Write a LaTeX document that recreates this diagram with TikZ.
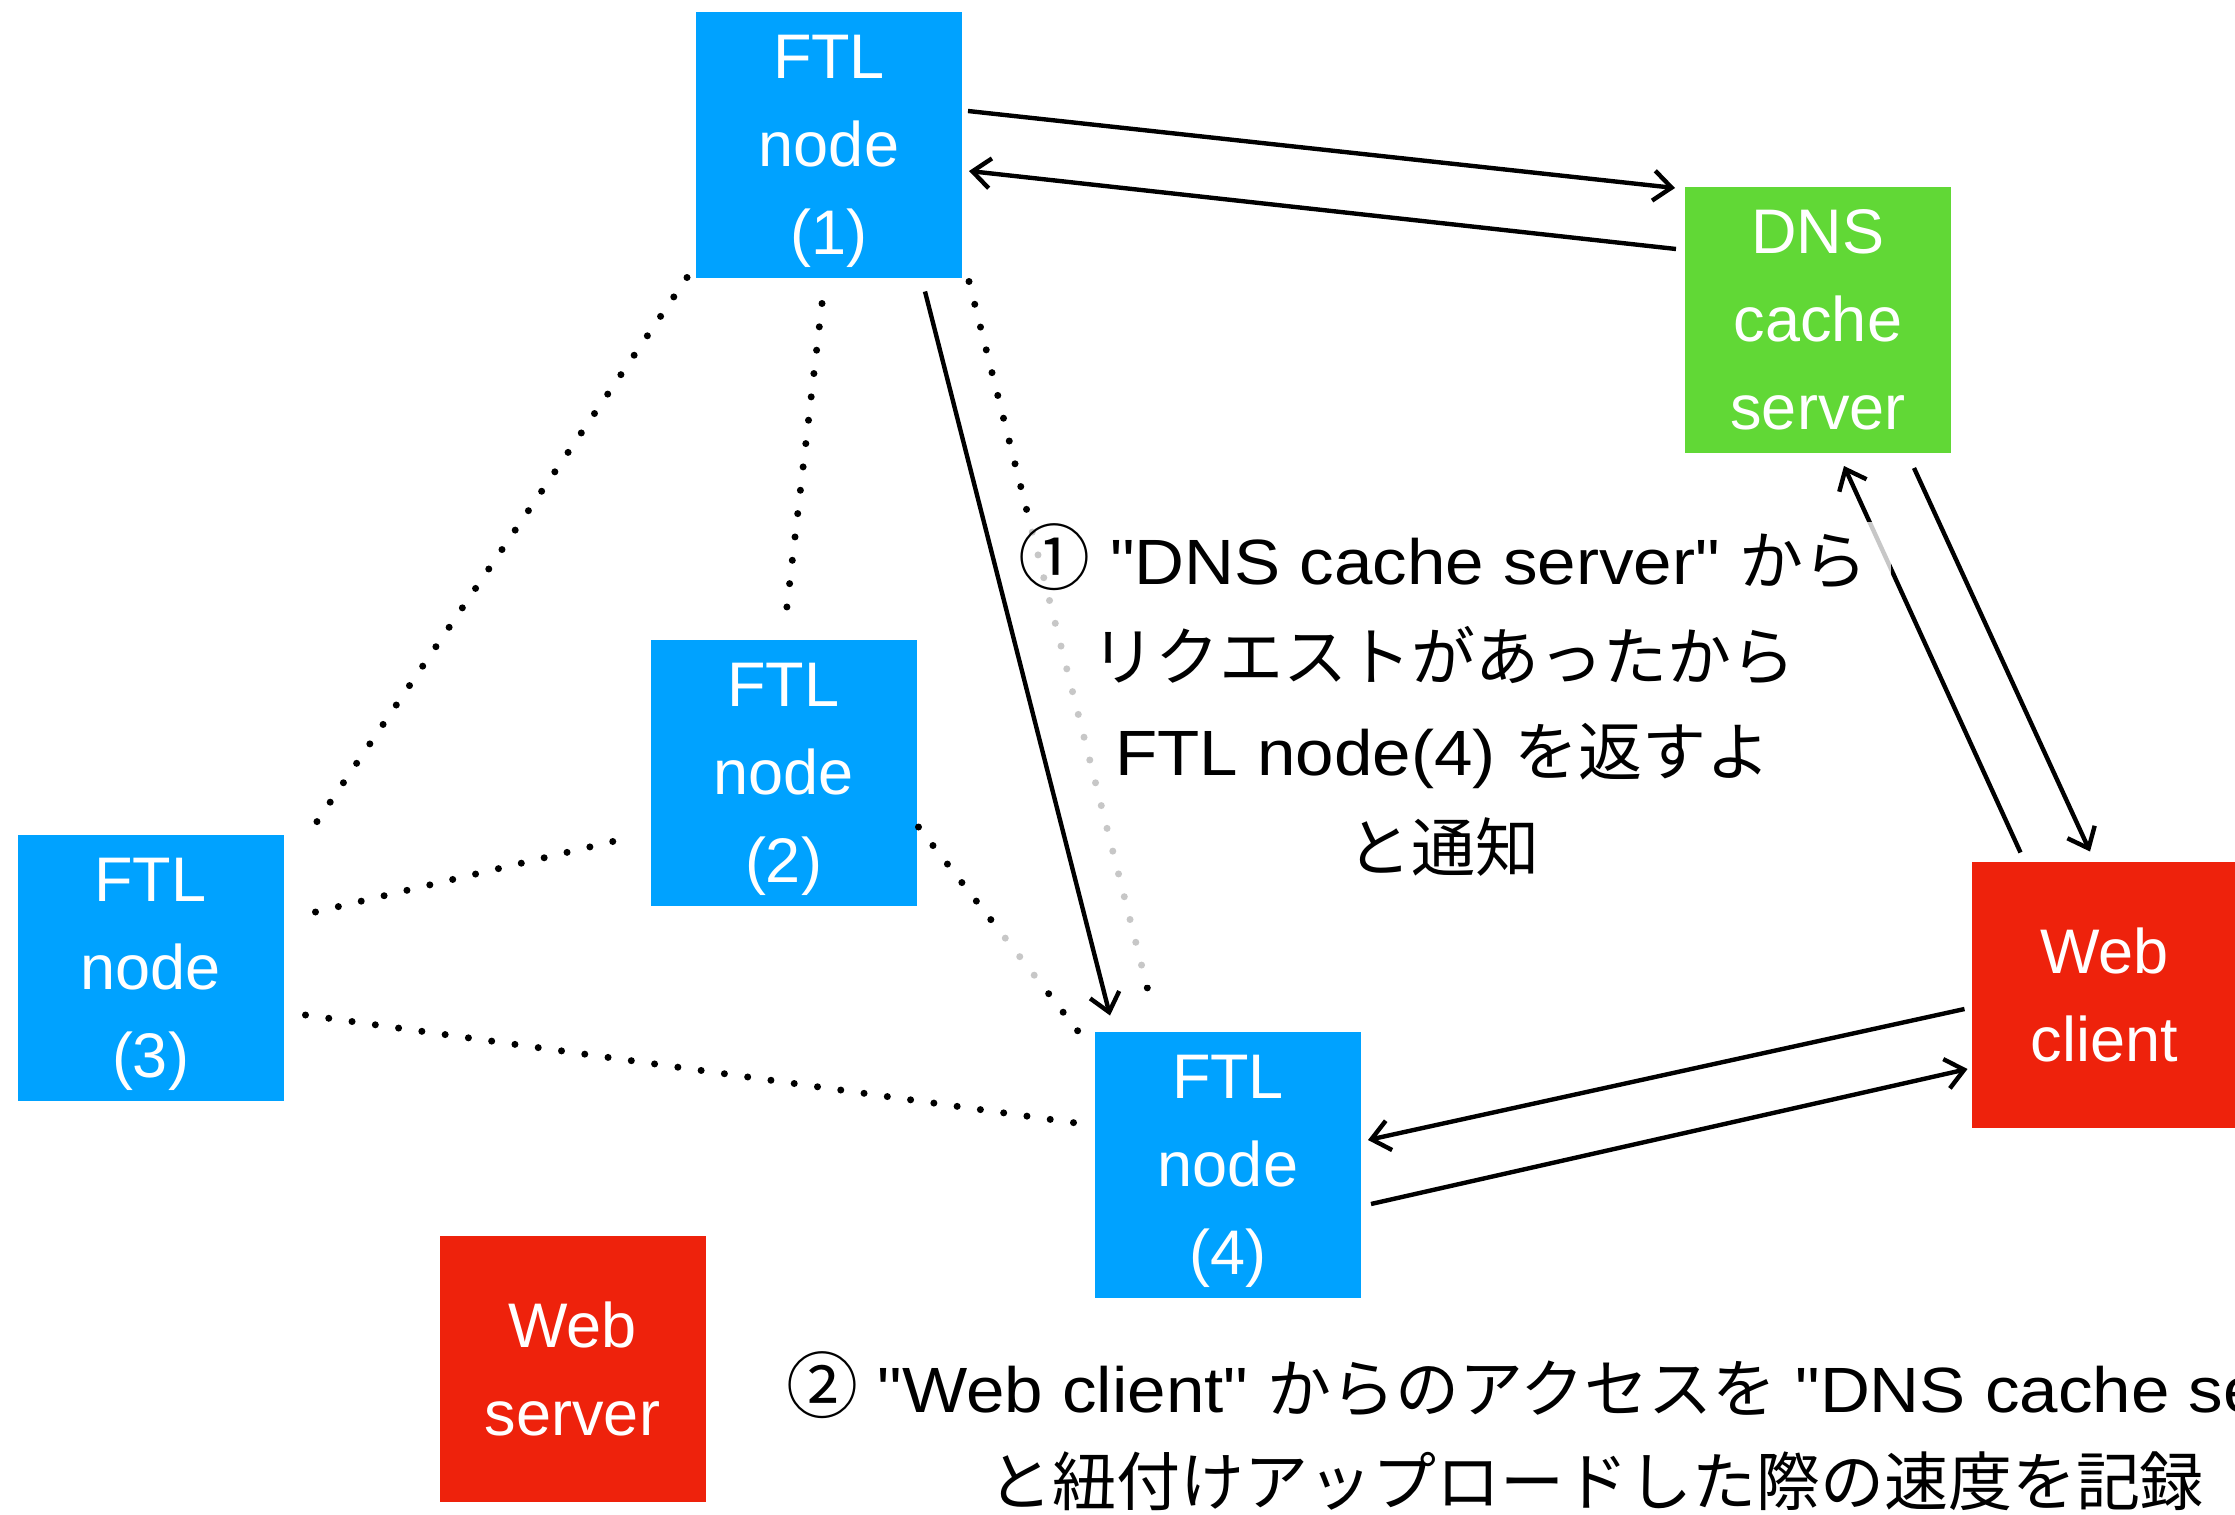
\documentclass[tikz,border=0pt]{standalone}
\usepackage{fontspec}
\setmainfont{Liberation Sans}
\newfontfamily\lsans{Liberation Sans}[FakeStretch=1.08]
\newfontfamily\jpfont{Noto Sans CJK JP}
\newcommand\circnum[1]{\smash{\jpfont\fontsize{36}{36}\selectfont #1}}
\usetikzlibrary{arrows.meta,calc}
\definecolor{ftlblue}{HTML}{00A2FF}
\definecolor{dnsgreen}{HTML}{61D836}
\definecolor{webred}{HTML}{EE220C}
\begin{document}
\begin{tikzpicture}[x=0.5pt,y=-0.5pt,
  basebox/.style={minimum size=133pt, inner sep=0pt, outer sep=0pt, text=white, align=center, font=\fontsize{31.5}{44}\selectfont},
  ftlbox/.style={basebox, fill=ftlblue},
  dnsbox/.style={basebox, fill=dnsgreen},
  webbox/.style={basebox, fill=webred},
  arr/.style={line width=2.2pt, -{Straight Barb[length=9pt,width=15pt]}},
  dotline/.style={line width=3.5pt, line cap=round, dash pattern=on 0pt off 11.75pt},
  lbla/.style={align=center, font=\lsans\fontsize{32}{47.75}\selectfont},
  lblb/.style={align=center, font=\lsans\fontsize{32}{46.3}\selectfont}
]
\useasboundingbox (0,0) rectangle (2235,1515);
\fill[white] (0,0) rectangle (2235,1515);
\clip (0,0) rectangle (2235,1515);

% boxes
\node[ftlbox] (ftl1) at (829,144.5) {FTL\\node\\\smash{(1)}};
\node[dnsbox] (dns) at (1818,320) {DNS\\cache\\server};
\node[ftlbox] (ftl2) at (783.5,772.5) {FTL\\node\\\smash{(2)}};
\node[ftlbox] (ftl3) at (150.5,967.5) {FTL\\node\\\smash{(3)}};
\node[ftlbox] (ftl4) at (1228,1164.5) {FTL\\node\\\smash{(4)}};
\node[webbox] (wc) at (2104.5,994.5) {Web\\client};
\node[webbox] (ws) at (572.5,1368.5) {Web\\server};

% dotted links
\draw[dotline] ([shift={(-9,0)}]ftl1.south west) -- ([shift={(22,4)}]ftl3.north east);
\draw[dotline] ([shift={(-7,26)}]ftl1.south) -- ([shift={(1.5,-16)}]ftl2.north);
\draw[dotline] ([shift={(7,4)}]ftl1.south east) -- ([shift={(-76,-25)}]ftl4.north);
\draw[dotline] ([shift={(32,-55.5)}]ftl3.east) -- ([shift={(-23,65.5)}]ftl2.west);
\draw[dotline] ([shift={(2,54.5)}]ftl2.east) -- ([shift={(-9,10)}]ftl4.north west);
\draw[dotline] ([shift={(22,47.5)}]ftl3.east) -- ([shift={(-19,-41.5)}]ftl4.west);

% web client -> dns (partly under the label)
\draw[arr] ([shift={(49,-9)}]wc.north west) -- ([shift={(26,13)}]dns.south);

% label 1 with translucent background
\fill[white, opacity=0.78] (995,522) rectangle (1891,985);
\node[lbla] (lbl1) at (1443,705) {\circnum{①} "DNS cache server" {\jpfont から}\\
{\jpfont リクエストがあったから}\\
FTL node(4) {\jpfont を返すよ}\\
{\jpfont と通知}};

% other arrows
\draw[arr] ([shift={(6,-33.5)}]ftl1.east) -- ([shift={(-10,1)}]dns.north west);
\draw[arr] ([shift={(-9,62)}]dns.north west) -- ([shift={(7,26.5)}]ftl1.east);
\draw[arr] ([shift={(96,14)}]ftl1.south) -- ([shift={(15,-16)}]ftl4.north west);
\draw[arr] ([shift={(96,15)}]dns.south) -- ([shift={(-14.5,-10)}]wc.north);
\draw[arr] ([shift={(-7,14.5)}]wc.west) -- ([shift={(7,-24.5)}]ftl4.east);
\draw[arr] ([shift={(10,39.5)}]ftl4.east) -- ([shift={(-4,74.5)}]wc.west);

% label 2
\node[lblb] (lbl2) at (1596,1436) {\circnum{②} "Web client" {\jpfont からのアクセスを} "DNS cache server"\\
{\jpfont と紐付けアップロードした際の速度を記録}};
\end{tikzpicture}
\end{document}
